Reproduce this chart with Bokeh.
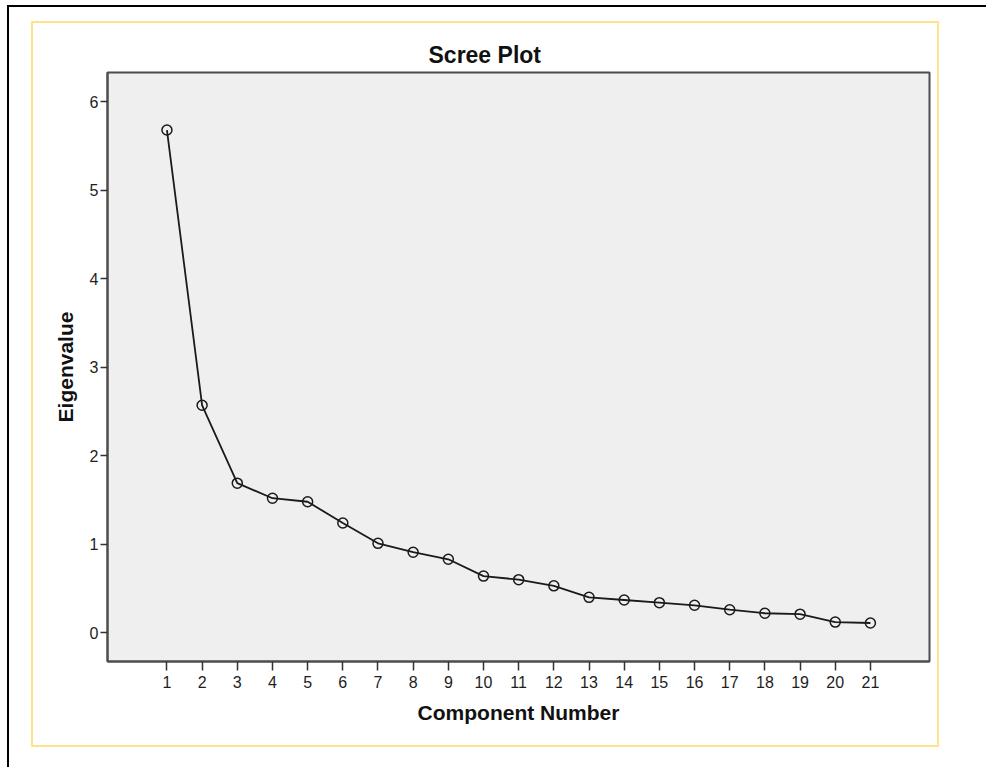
from bokeh.plotting import figure
from bokeh.models import Range1d, FixedTicker, ColumnDataSource
from bokeh.layouts import column
from bokeh.embed import file_html
from bokeh.resources import INLINE

# Data
components = [1, 2, 3, 4, 5, 6, 7, 8, 9, 10, 11, 12, 13, 14, 15, 16, 17, 18, 19, 20, 21]
eigenvalues = [5.68, 2.57, 1.69, 1.52, 1.48, 1.24, 1.01, 0.91, 0.83, 0.64, 0.60,
               0.53, 0.40, 0.37, 0.34, 0.31, 0.26, 0.22, 0.21, 0.12, 0.11]
x_ticks = [1, 2, 3, 4, 5, 6, 7, 8, 9, 10, 11, 12, 13, 14, 15, 16, 17, 18, 19, 20, 21]
y_ticks = [0, 1, 2, 3, 4, 5, 6]

FONT = "Liberation Sans"

src = ColumnDataSource(data=dict(x=components, y=eigenvalues))

p = figure(width=904, height=722, output_backend="svg", toolbar_location=None,
           x_range=Range1d(-0.69, 22.68), y_range=Range1d(-0.325, 6.33),
           min_border_left=74, min_border_right=8, min_border_top=49, min_border_bottom=84,
           styles={"outline": "2px solid #ffe38a"})

p.background_fill_color = "#efefef"
p.border_fill_color = "white"
p.outline_line_color = "#4d4d4d"
p.outline_line_width = 2
p.grid.visible = False

# Title
p.title.text = "Scree Plot"
p.title.align = "left"
p.title.offset = 321
p.title.text_font = FONT
p.title.text_font_size = "23px"
p.title.text_font_style = "bold"
p.title.text_color = "#111111"

# Axes
for ax in (p.xaxis[0], p.yaxis[0]):
    ax.major_label_text_font = FONT
    ax.major_label_text_font_size = "16px"
    ax.major_label_text_color = "#1e1e1e"
    ax.axis_label_text_font = FONT
    ax.axis_label_text_font_size = "21px"
    ax.axis_label_text_font_style = "bold"
    ax.axis_label_text_color = "#111111"
    ax.minor_tick_line_color = None
    ax.major_tick_in = 0
    ax.major_tick_line_color = "#333333"
    ax.major_tick_line_width = 1.5
    ax.axis_line_color = "#4d4d4d"
    ax.axis_line_width = 2

p.xaxis.ticker = FixedTicker(ticks=x_ticks)
p.yaxis.ticker = FixedTicker(ticks=y_ticks)
p.xaxis.axis_label = "Component Number"
p.yaxis.axis_label = "Eigenvalue"
p.xaxis.major_tick_out = 9
p.yaxis.major_tick_out = 7
p.xaxis.major_label_standoff = 5
p.yaxis.major_label_standoff = 2
p.xaxis.axis_label_standoff = 10
p.yaxis.axis_label_standoff = 10

# Series
p.line("x", "y", source=src, line_color="#1a1a1a", line_width=1.8)
p.scatter("x", "y", source=src, size=10, fill_color=None,
          line_color="#1a1a1a", line_width=1.5)

page = column(p, styles={"border-left": "2px solid black", "border-top": "2px solid black",
                         "margin-left": "7px", "margin-top": "5px",
                         "padding-left": "24px", "padding-top": "16px",
                         "padding-right": "49px", "padding-bottom": "22px"})

open("out.html", "w").write(file_html(page, INLINE))
